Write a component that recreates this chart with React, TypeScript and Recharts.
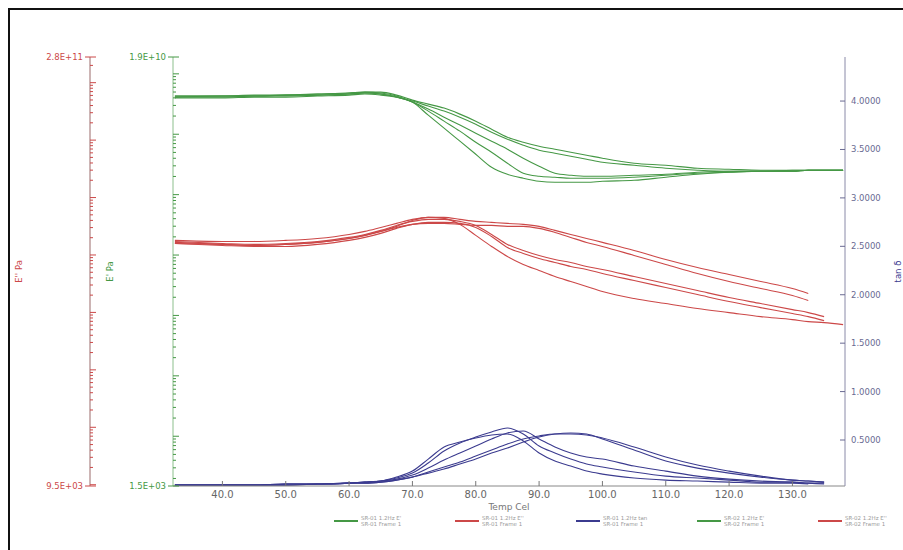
import { LineChart, Line, XAxis, YAxis, Legend, Label } from 'recharts'

// temperature (°C)
const temps = [32.5, 40, 45, 50, 55, 60, 62.5, 65, 67.5, 70, 72.5, 75, 77.5, 80, 82.5, 85, 87.5, 90, 92.5, 95, 97.5, 100, 105, 110, 115, 120, 125, 130, 132.5, 135, 138]

// log10 E' (Pa) - green axis
const storage1 = [9.615, 9.615, 9.632, 9.632, 9.648, 9.665, 9.682, 9.665, 9.615, 9.532, 9.316, 9.101, 8.885, 8.669, 8.453, 8.337, 8.271, 8.221, 8.205, 8.205, 8.205, 8.221, 8.238, 8.288, 8.337, 8.371, 8.387, 8.387, 8.404, 8.404, 8.404]
const storage2 = [9.632, 9.632, 9.632, 9.648, 9.665, 9.682, 9.698, 9.682, 9.632, 9.532, 9.383, 9.217, 9.051, 8.868, 8.702, 8.52, 8.354, 8.304, 8.288, 8.271, 8.271, 8.271, 8.288, 8.321, 8.354, 8.371, 8.387, 8.387, 8.404, 8.404, 8.404]
const storage3 = [9.615, 9.632, 9.632, 9.648, 9.648, 9.665, 9.682, 9.665, 9.615, 9.532, 9.416, 9.283, 9.151, 9.018, 8.885, 8.752, 8.603, 8.47, 8.354, 8.321, 8.304, 8.304, 8.321, 8.337, 8.371, 8.387, 8.387, 8.404, 8.404, 8.404, 8.404]
const storage4 = [9.632, 9.632, 9.648, 9.648, 9.665, 9.682, 9.698, 9.698, 9.648, 9.565, 9.499, 9.433, 9.333, 9.217, 9.084, 8.951, 8.868, 8.802, 8.752, 8.702, 8.653, 8.603, 8.52, 8.487, 8.437, 8.42, 8.404, 8.404, 8.404, 8.404, 8.404]
const storage5 = [9.599, 9.599, 9.615, 9.615, 9.632, 9.648, 9.665, 9.648, 9.615, 9.549, 9.466, 9.383, 9.283, 9.167, 9.034, 8.918, 8.819, 8.736, 8.686, 8.636, 8.586, 8.536, 8.487, 8.437, 8.404, 8.387, 8.387, 8.387, 8.404, 8.404, 8.404]

// log10 E'' (Pa) - red axis
const loss1 = [8.219, 8.184, 8.166, 8.184, 8.219, 8.288, 8.341, 8.411, 8.498, 8.602, 8.655, 8.637, 8.533, 8.341, 8.149, 7.974, 7.835, 7.73, 7.625, 7.538, 7.451, 7.363, 7.241, 7.154, 7.067, 6.997, 6.927, 6.875, 6.84, 6.823, 6.788]
const loss2 = [8.236, 8.201, 8.184, 8.201, 8.236, 8.306, 8.358, 8.428, 8.515, 8.585, 8.62, 8.62, 8.585, 8.515, 8.358, 8.184, 8.079, 7.992, 7.922, 7.87, 7.8, 7.747, 7.625, 7.503, 7.381, 7.259, 7.154, 7.049, 6.997, 6.927, null]
const loss3 = [8.201, 8.166, 8.149, 8.149, 8.184, 8.254, 8.306, 8.376, 8.463, 8.533, 8.568, 8.568, 8.55, 8.48, 8.323, 8.131, 8.027, 7.939, 7.87, 7.8, 7.747, 7.678, 7.555, 7.433, 7.311, 7.189, 7.084, 6.98, 6.927, 6.857, null]
const loss4 = [8.254, 8.236, 8.236, 8.254, 8.288, 8.358, 8.411, 8.48, 8.55, 8.62, 8.655, 8.655, 8.62, 8.585, 8.568, 8.55, 8.533, 8.498, 8.428, 8.358, 8.288, 8.219, 8.079, 7.922, 7.782, 7.66, 7.538, 7.416, 7.33, null, null]
const loss5 = [8.201, 8.184, 8.166, 8.184, 8.219, 8.288, 8.341, 8.411, 8.48, 8.533, 8.55, 8.55, 8.533, 8.515, 8.515, 8.498, 8.498, 8.463, 8.393, 8.306, 8.219, 8.149, 7.992, 7.835, 7.678, 7.538, 7.416, 7.294, 7.207, null, null]

// tan delta - blue axis
const tan1 = [0.034, 0.034, 0.034, 0.045, 0.045, 0.055, 0.065, 0.076, 0.117, 0.179, 0.303, 0.428, 0.479, 0.521, 0.552, 0.562, 0.49, 0.366, 0.283, 0.231, 0.179, 0.148, 0.107, 0.086, 0.076, 0.065, 0.055, 0.055, 0.045, null, null]
const tan2 = [0.034, 0.034, 0.034, 0.045, 0.045, 0.055, 0.065, 0.076, 0.107, 0.158, 0.262, 0.386, 0.469, 0.531, 0.583, 0.624, 0.562, 0.438, 0.366, 0.303, 0.252, 0.221, 0.169, 0.127, 0.107, 0.086, 0.065, 0.065, 0.055, 0.045, null]
const tan3 = [0.034, 0.034, 0.034, 0.045, 0.045, 0.055, 0.065, 0.076, 0.096, 0.138, 0.21, 0.293, 0.366, 0.438, 0.511, 0.573, 0.593, 0.511, 0.428, 0.366, 0.324, 0.303, 0.231, 0.179, 0.127, 0.096, 0.076, 0.065, 0.055, 0.055, null]
const tan4 = [0.034, 0.034, 0.034, 0.034, 0.045, 0.055, 0.055, 0.065, 0.086, 0.117, 0.169, 0.221, 0.272, 0.334, 0.397, 0.459, 0.511, 0.542, 0.562, 0.562, 0.552, 0.521, 0.428, 0.324, 0.241, 0.179, 0.127, 0.086, 0.076, 0.065, null]
const tan5 = [0.034, 0.034, 0.034, 0.034, 0.045, 0.055, 0.055, 0.065, 0.086, 0.117, 0.158, 0.2, 0.252, 0.303, 0.366, 0.417, 0.479, 0.531, 0.562, 0.573, 0.562, 0.511, 0.397, 0.283, 0.21, 0.158, 0.117, 0.086, 0.076, 0.065, null]

const samples = ['SR-01', 'SR-02', 'SR-03', 'SR-04', 'SR-05']
const tempTicks = [40, 50, 60, 70, 80, 90, 100, 110, 120, 130]
const tanTicks = [0.5, 1.0, 1.5, 2.0, 2.5, 3.0, 3.5, 4.0]
const storageRange = [1.5e3, 1.9e10]
const lossRange = [9.5e3, 2.8e11]
const tanRange = [0.025, 4.455]
const tempRange = [32.2, 138.3]

const GREEN = '#459845'
const RED = '#cc4848'
const BLUE = '#3b3b8f'

const storage = [storage1, storage2, storage3, storage4, storage5]
const loss = [loss1, loss2, loss3, loss4, loss5]
const tan = [tan1, tan2, tan3, tan4, tan5]

const data = temps.map((t, i) => {
  const row: Record<string, number | null> = { t }
  samples.forEach((_, s) => {
    row[`g${s}`] = storage[s][i]
    row[`r${s}`] = loss[s][i]
    row[`b${s}`] = tan[s][i]
  })
  return row
})

const series = samples.flatMap((name, s) => [
  { key: `g${s}`, axis: 'g', color: GREEN, name: `${name} 1.2Hz E'`, sub: `${name} Frame 1` },
  { key: `r${s}`, axis: 'r', color: RED, name: `${name} 1.2Hz E''`, sub: `${name} Frame 1` },
  { key: `b${s}`, axis: 'b', color: BLUE, name: `${name} 1.2Hz tan`, sub: `${name} Frame 1` },
])

const logEnds = (r: number[]) => [Math.log10(r[0]), Math.log10(r[1])]

function logTicks(r: number[]) {
  const [a, b] = logEnds(r)
  const out = [a]
  for (let n = Math.floor(a); n <= Math.ceil(b); n++) {
    for (let k = 1; k < 10; k++) {
      const v = n + Math.log10(k)
      if (v > a + 0.01 && v < b - 0.01) out.push(v)
    }
  }
  out.push(b)
  return out
}

const fmtExp = (v: number) => {
  const [m, e] = Math.pow(10, v).toExponential(1).split('e')
  const n = Number(e)
  return `${m}E${n < 0 ? '-' : '+'}${String(Math.abs(n)).padStart(2, '0')}`
}

const leftLogTick = (color: string, range: number[]) => (props: any) => {
  const { x, y, payload } = props
  const ax = x + 6
  const v = payload.value
  const [a, b] = logEnds(range)
  const isEnd = Math.abs(v - a) < 1e-6 || Math.abs(v - b) < 1e-6
  const major = Math.abs(v - Math.round(v)) < 1e-6
  return (
    <g>
      <line x1={isEnd ? ax - 5 : ax} x2={ax + (isEnd || major ? 6 : 3)} y1={y} y2={y} stroke={color} strokeWidth={1} />
      {isEnd && (
        <text x={ax - 7} y={y} dy={3} textAnchor="end" fill={color} fontSize={8.5}>
          {fmtExp(v)}
        </text>
      )}
    </g>
  )
}

const rightTick = (props: any) => {
  const { x, y, payload } = props
  const ax = x - 6
  return (
    <g>
      <line x1={ax - 5} x2={ax} y1={y} y2={y} stroke="#6a6a92" />
      <text x={ax + 6} y={y} dy={3} fill="#6a6a92" fontSize={8.5}>
        {Number(payload.value).toFixed(4)}
      </text>
    </g>
  )
}

const xTick = (props: any) => {
  const { x, y, payload } = props
  const ay = y - 3
  return (
    <g>
      <line x1={x} x2={x} y1={ay - 5} y2={ay} stroke="#777" />
      <text x={x} y={ay + 12} textAnchor="middle" fill="#666" fontSize={10}>
        {Number(payload.value).toFixed(1)}
      </text>
    </g>
  )
}

const axisTitle = (text: string, color: string, dx: number) => (props: any) => {
  const vb = props.viewBox
  const cx = vb.x + dx
  const cy = vb.y + vb.height / 2
  return (
    <text x={cx} y={cy} transform={`rotate(-90 ${cx} ${cy})`} textAnchor="middle" fill={color} fontSize={8.5}>
      {text}
    </text>
  )
}

// only the entries that the visible strip can hold
function LegendRow(props: any) {
  const payload = (props.payload || []).slice(0, 5)
  return (
    <div style={{ display: 'flex', alignItems: 'center', height: 22, width: 903, paddingLeft: 334, boxSizing: 'border-box', whiteSpace: 'nowrap', overflow: 'hidden' }}>
      {payload.map((p: any) => {
        const s = series.find((q) => q.key === p.dataKey)
        return (
          <div key={p.dataKey} style={{ display: 'flex', alignItems: 'center', flex: '0 0 121px' }}>
            <span style={{ width: 24, borderTop: `2px solid ${p.color}` }} />
            <span style={{ marginLeft: 3, fontSize: 5.5, lineHeight: '6px', color: '#9a9a9a', textAlign: 'left' }}>
              {p.value}
              <br />
              {s ? s.sub : ''}
            </span>
          </div>
        )
      })}
    </div>
  )
}

export default function App() {
  return (
    <div style={{ position: 'fixed', left: 0, top: 0, width: 903, height: 550, background: '#fff', overflow: 'hidden' }}>
      <div style={{ position: 'absolute', left: 8, top: 8, width: 940, height: 620, border: '2px solid #111' }} />
      <div style={{ position: 'absolute', left: 0, top: 0 }}>
        <LineChart width={903} height={550} data={data} margin={{ top: 57, left: 8, right: 0, bottom: 18 }} style={{ fontFamily: '"DejaVu Sans", sans-serif' }}>
          <XAxis
            dataKey="t"
            type="number"
            domain={tempRange}
            ticks={tempTicks}
            interval={0}
            allowDataOverflow
            height={24}
            tickSize={0}
            tickMargin={3}
            tickLine={false}
            tick={xTick}
            axisLine={{ stroke: '#888' }}
          >
            <Label value="Temp Cel" position="insideBottom" offset={0} fill="#777" fontSize={9} />
          </XAxis>
          <YAxis
            yAxisId="g"
            orientation="left"
            type="number"
            width={83}
            domain={logEnds(storageRange)}
            ticks={logTicks(storageRange)}
            interval={0}
            allowDataOverflow
            tickSize={0}
            tickMargin={6}
            tickLine={false}
            tick={leftLogTick(GREEN, storageRange)}
            axisLine={{ stroke: '#8cbf8c' }}
          >
            <Label content={axisTitle("E' Pa", GREEN, 23)} />
          </YAxis>
          <YAxis
            yAxisId="r"
            orientation="left"
            type="number"
            width={82}
            domain={logEnds(lossRange)}
            ticks={logTicks(lossRange)}
            interval={0}
            allowDataOverflow
            tickSize={0}
            tickMargin={6}
            tickLine={false}
            tick={leftLogTick(RED, lossRange)}
            axisLine={{ stroke: '#9a6a6a' }}
          >
            <Label content={axisTitle("E'' Pa", RED, 14)} />
          </YAxis>
          <YAxis
            yAxisId="b"
            orientation="right"
            type="number"
            width={58}
            domain={tanRange}
            ticks={tanTicks}
            interval={0}
            allowDataOverflow
            tickSize={0}
            tickMargin={6}
            tickLine={false}
            tick={rightTick}
            axisLine={{ stroke: '#8a8aa8' }}
          >
            <Label content={axisTitle('tan δ', BLUE, 56)} />
          </YAxis>
          <Legend verticalAlign="bottom" content={LegendRow} wrapperStyle={{ left: 0, width: 903, bottom: 18 }} />
          {series.map((s) => (
            <Line
              key={s.key}
              yAxisId={s.axis}
              dataKey={s.key}
              name={s.name}
              type="monotone"
              stroke={s.color}
              strokeWidth={1.1}
              dot={false}
              activeDot={false}
              isAnimationActive={false}
            />
          ))}
        </LineChart>
      </div>
    </div>
  )
}
